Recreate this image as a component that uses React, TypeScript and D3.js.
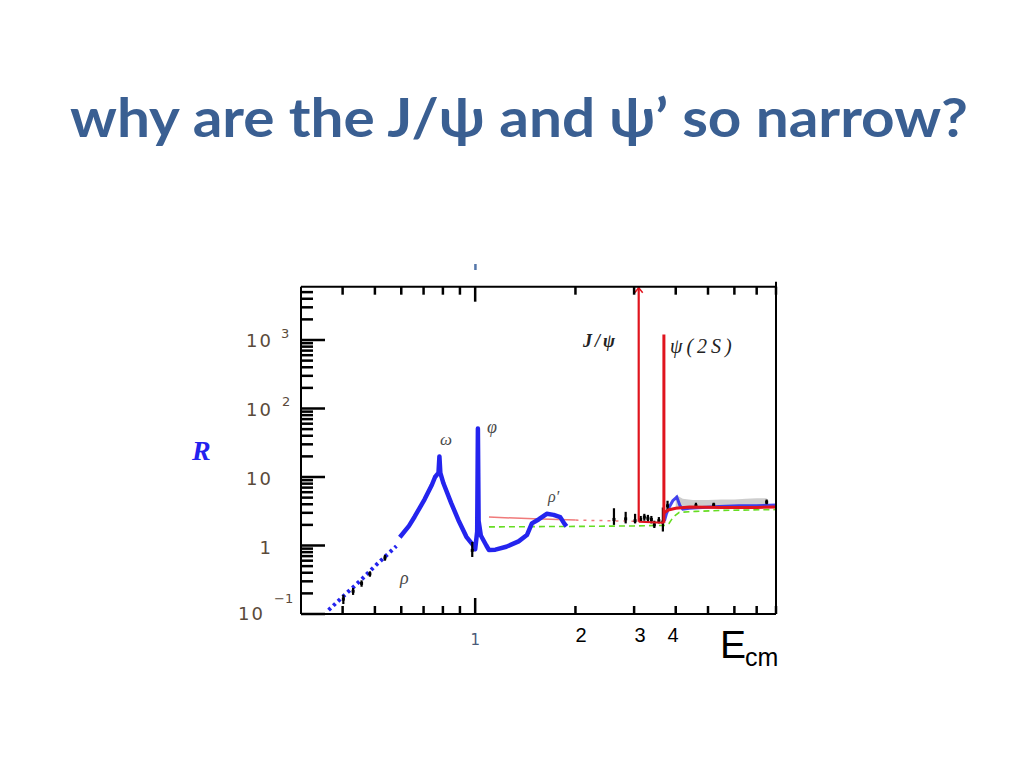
import React from "react";
import * as d3 from "d3";

// ---------- data ----------
const blueLowE = [0.363, 0.4, 0.45, 0.5, 0.55, 0.58];
const blueLowR = [0.114, 0.178, 0.3, 0.5, 0.77, 0.98];

const blueMainE = [0.594, 0.633, 0.658, 0.705, 0.741, 0.758, 0.776, 0.781, 0.786, 0.803, 0.848, 0.89, 0.941, 0.984, 1.0, 1.014, 1.019, 1.024, 1.04, 1.08, 1.1, 1.15, 1.24, 1.35, 1.43, 1.48, 1.55, 1.64, 1.72, 1.8, 1.85, 1.88];
const blueMainR = [1.32, 1.93, 2.63, 4.72, 7.64, 10.0, 11.5, 20, 11.5, 8.1, 4.13, 2.36, 1.34, 1.02, 0.88, 1.6, 51, 2.3, 1.4, 1.0, 0.86, 0.87, 0.96, 1.15, 1.42, 2.1, 2.4, 2.9, 2.8, 2.6, 2.1, 1.9];

const blueHighE = [3.7, 3.75, 3.82, 3.92, 4.03, 4.12, 4.2, 4.4, 4.8, 5.4, 6.2, 7.0, 8.0];
const blueHighR = [2.3, 2.9, 3.6, 4.5, 5.1, 3.8, 3.4, 3.5, 3.6, 3.7, 3.8, 3.8, 3.9];

const grayE = [4.0, 4.2, 4.5, 5.0, 5.5, 6.0, 6.5, 7.0, 7.5];
const grayLo = [3.6, 3.5, 3.5, 3.6, 3.6, 3.7, 3.7, 3.7, 3.8];
const grayHi = [5.5, 4.8, 4.6, 4.6, 4.7, 4.7, 4.8, 4.9, 4.9];

const redLowE = [1.1, 1.5, 2.0];
const redLowR = [2.6, 2.45, 2.35];
const redDotE = [2.0, 2.5, 3.09];
const redDotR = [2.35, 2.3, 2.25];
const redMidE = [3.097, 3.686];
const redMidR = [2.22, 2.15];
const redHighE = [3.69, 3.8, 4.0, 4.4, 5.5, 7.0, 8.0];
const redHighR = [3.0, 3.3, 3.5, 3.65, 3.6, 3.6, 3.65];

const resonanceNames = ["J/ψ", "ψ(2S)"];
const resonanceE = [3.097, 3.686];
const resonanceBaseR = [2.22, 2.15];
const resonancePeakR = [6000, 1200];

const greenE = [1.1, 2.0, 3.0, 3.72, 3.82, 3.93, 4.1, 4.6, 5.5, 8.0];
const greenR = [1.87, 1.9, 1.93, 1.97, 2.1, 2.6, 3.05, 3.15, 3.25, 3.35];

const blackE = [0.402, 0.43, 0.456, 0.483, 0.536, 0.98, 2.61, 2.83, 3.02, 3.14, 3.22, 3.3, 3.38, 3.45, 3.56, 3.66, 3.78, 4.6, 5.2, 7.5];
const blackR = [0.165, 0.215, 0.28, 0.385, 0.66, 0.85, 2.4, 2.45, 2.3, 2.4, 2.6, 2.5, 2.4, 2.0, 2.3, 2.2, 3.8, 3.8, 3.9, 4.3];
const blackLo = [0.14, 0.19, 0.25, 0.35, 0.6, 0.68, 2.0, 2.1, 2.1, 2.2, 2.3, 2.2, 2.1, 1.8, 2.1, 1.6, 3.2, 3.6, 3.7, 4.0];
const blackHi = [0.19, 0.24, 0.31, 0.42, 0.73, 1.13, 3.5, 3.1, 2.9, 2.7, 2.9, 2.8, 2.7, 2.3, 2.6, 3.6, 4.5, 4.2, 4.2, 4.7];

const xMajorTicks = [1];
const xMinorTicks = [0.4, 0.5, 0.6, 0.7, 0.8, 0.9, 2, 3, 4, 5, 6, 7, 8];
const yMajorTicks = [0.1, 1, 10, 100, 1000];
const yMinorTicks = [2, 3, 4, 5, 6, 7, 8, 9].flatMap((m) => [0.1, 1, 10, 100, 1000].map((d) => m * d)).filter((v) => v < 6000);

const xLabels = ["2", "3", "4"];

// ---------- scales ----------
const X0 = 301, X1 = 776, Y0 = 614, Y1 = 286.7;
const x = d3.scaleLog().domain([0.3, 8]).range([X0, X1]);
const y = d3.scaleLog().domain([0.1, 6000]).range([Y0, Y1]);

const zip = (es: number[], rs: number[]) => es.map((e, i) => [e, rs[i]] as [number, number]);
const line = d3.line<[number, number]>().x((d) => x(d[0])).y((d) => y(d[1]));
const area = d3
  .area<number>()
  .x((i) => x(grayE[i]))
  .y0((i) => y(grayLo[i]))
  .y1((i) => y(grayHi[i]));

const BLUE = "#2424ee";
const RED = "#e0141e";
const LABEL = "#5a4a3a";

export default function App() {
  return (
    <svg width={1024} height={768} style={{ position: "absolute", left: 0, top: 0, background: "#fff" }}>
      <defs>
        <clipPath id="plot">
          <rect x={X0} y={Y1} width={X1 - X0} height={Y0 - Y1} />
        </clipPath>
      </defs>
      <text
        x={70}
        y={137}
        textLength={898}
        lengthAdjust="spacingAndGlyphs"
        fontFamily="Lato, 'Open Sans', sans-serif"
        fontWeight="bold"
        fontSize={54}
        fill="#3a5f92"
      >
        why are the J/ψ and ψ’ so narrow?
      </text>

      <g clipPath="url(#plot)">
        <path d={area(grayE.map((_, i) => i)) || ""} fill="#c8c8c8" opacity={0.9} />
        <path d={line(zip(greenE, greenR)) || ""} fill="none" stroke="#66dd22" strokeWidth={1.6} strokeDasharray="6 4" />
        <path d={line(zip(redLowE, redLowR)) || ""} fill="none" stroke="#f07a7a" strokeWidth={1.5} />
        <path d={line(zip(redDotE, redDotR)) || ""} fill="none" stroke="#f07a7a" strokeWidth={1.5} strokeDasharray="3 5" />
        <path d={line(zip(blueLowE, blueLowR)) || ""} fill="none" stroke={BLUE} strokeWidth={4} strokeDasharray="3 3.5" />
        <path d={line(zip(blueMainE, blueMainR)) || ""} fill="none" stroke={BLUE} strokeWidth={4.5} strokeLinejoin="round" />
        <path d={line(zip(blueHighE, blueHighR)) || ""} fill="none" stroke={BLUE} strokeWidth={3} opacity={0.85} />
        {blackE.map((e, i) => (
          <g key={i}>
            <line x1={x(e)} x2={x(e)} y1={y(blackLo[i])} y2={y(blackHi[i])} stroke="#000" strokeWidth={2.2} />
            <rect x={x(e) - 1.5} y={y(blackR[i]) - 1.5} width={3} height={3} fill="#000" />
          </g>
        ))}
        <path d={line(zip(redMidE, redMidR)) || ""} fill="none" stroke={RED} strokeWidth={2} />
        <path d={line(zip(redHighE, redHighR)) || ""} fill="none" stroke={RED} strokeWidth={3} />
        {resonanceE.map((e, i) => (
          <line
            key={resonanceNames[i]}
            x1={x(e)}
            x2={x(e)}
            y1={y(resonanceBaseR[i])}
            y2={y(resonancePeakR[i])}
            stroke={RED}
            strokeWidth={i === 0 ? 2.2 : 3}
          />
        ))}
      </g>
      <polyline
        points={`${x(resonanceE[0]) - 4},${Y1 + 6} ${x(resonanceE[0])},${Y1 + 1} ${x(resonanceE[0]) + 4},${Y1 + 6}`}
        fill="none"
        stroke={RED}
        strokeWidth={1.5}
      />

      {/* frame */}
      <g stroke="#000" strokeWidth={2}>
        <line x1={X0} x2={X1} y1={Y0} y2={Y0} />
        <line x1={X0} x2={X1} y1={Y1} y2={Y1} />
        <line x1={X0} x2={X0} y1={Y1} y2={Y0} />
        <line x1={X1} x2={X1} y1={Y1 - 5} y2={Y0} />
      </g>
      <g stroke="#000" strokeWidth={2.5}>
        {xMinorTicks.map((t) => (
          <g key={"xm" + t}>
            <line x1={x(t)} x2={x(t)} y1={Y0} y2={Y0 - 8} />
            <line x1={x(t)} x2={x(t)} y1={Y1} y2={Y1 + 8} />
          </g>
        ))}
        {xMajorTicks.map((t) => (
          <g key={"xM" + t}>
            <line x1={x(t)} x2={x(t)} y1={Y0} y2={Y0 - 16} />
            <line x1={x(t)} x2={x(t)} y1={Y1} y2={Y1 + 15} />
          </g>
        ))}
        {yMinorTicks.map((t) => (
          <line key={"ym" + t} x1={X0} x2={X0 + 12} y1={y(t)} y2={y(t)} />
        ))}
        {yMajorTicks.map((t) => (
          <line key={"yM" + t} x1={X0} x2={X0 + 24} y1={y(t)} y2={y(t)} />
        ))}
      </g>
      <rect x={x(1) - 1} y={264} width={2.5} height={6} fill="#5577aa" />

      {/* y labels */}
      <g fontFamily="'DejaVu Sans', sans-serif" fill={LABEL} fontWeight="500">
        <text x={273} y={y(1000) + 7} fontSize={18} textAnchor="end" letterSpacing={2}>10</text>
        <text x={281} y={y(1000) - 2} fontSize={13}>3</text>
        <text x={273} y={y(100) + 7} fontSize={18} textAnchor="end" letterSpacing={2}>10</text>
        <text x={282} y={y(100) - 3} fontSize={13}>2</text>
        <text x={273} y={y(10) + 8} fontSize={18} textAnchor="end" letterSpacing={2}>10</text>
        <text x={271} y={y(1) + 8} fontSize={18} textAnchor="end">1</text>
        <text x={265} y={y(0.1) + 6} fontSize={18} textAnchor="end" letterSpacing={2}>10</text>
        <text x={274} y={y(0.1) - 11} fontSize={13}>−1</text>
        <text x={x(1)} y={645} fontSize={15} textAnchor="middle" fill="#4a5a78">1</text>
      </g>
      <text x={192} y={460} fontFamily="'Liberation Serif', serif" fontStyle="italic" fontWeight="bold" fontSize={28} fill="#2222ee">
        R
      </text>

      {/* x labels */}
      <g fontFamily="'Liberation Sans', Arial, sans-serif" fontSize={20} fill="#000" textAnchor="middle">
        <text x={581} y={642}>{xLabels[0]}</text>
        <text x={640} y={642}>{xLabels[1]}</text>
        <text x={673} y={642}>{xLabels[2]}</text>
      </g>
      <text x={720} y={658} fontFamily="'Liberation Sans', Arial, sans-serif" fontSize={39} fill="#000">
        E
      </text>
      <text x={745} y={666} fontFamily="'Liberation Sans', Arial, sans-serif" fontSize={25} fill="#000">
        cm
      </text>

      {/* annotations */}
      <g fontFamily="'Liberation Serif', serif" fontStyle="italic" fill="#4a4a4a">
        <text x={440} y={445} fontSize={17}>ω</text>
        <text x={487} y={433} fontSize={18}>φ</text>
        <text x={548} y={502} fontSize={16}>ρ′</text>
        <text x={400} y={584} fontSize={18}>ρ</text>
        <text x={583} y={347} fontSize={18} fontWeight="bold" fill="#222" letterSpacing={3}>{resonanceNames[0]}</text>
        <text x={670} y={353} fontSize={20} fill="#222" letterSpacing={4}>{resonanceNames[1]}</text>
      </g>
    </svg>
  );
}
